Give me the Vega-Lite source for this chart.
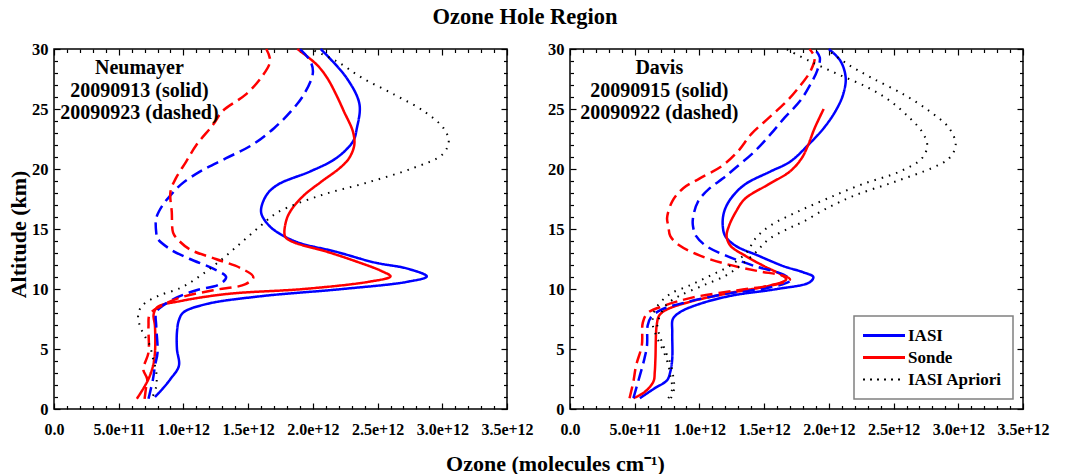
{
  "$schema": "https://vega.github.io/schema/vega-lite/v6.json",
  "autosize": {"type": "pad"},
  "padding": {"left": 6, "top": 5, "right": 5, "bottom": 5},
  "background": "white",
  "title": {"text": "Ozone Hole Region", "font": "Liberation Serif", "fontSize": 22.5, "fontWeight": "bold", "color": "#000000", "anchor": "middle", "offset": 12, "dx": -3},
  "config": {
    "view": {"stroke": "#000000", "strokeWidth": 1.5},
    "axis": {"domain": false, "grid": false, "labelFont": "Liberation Serif", "labelFontWeight": "bold", "labelColor": "#000000", "tickColor": "#000000", "tickWidth": 1.2, "labelFlush": false, "labelOverlap": false, "labelBound": false, "titleFont": "Liberation Serif", "titleFontWeight": "bold", "titleFontSize": 22, "titleColor": "#000000"}
  },
  "bounds": "flush",
  "spacing": 63,
  "resolve": {"legend": {"color": "independent"}},
  "data": {"values": [
    {"site":"Neumayer","type":"IASI","date":"20090913","alt":30.0,"ozone":2.06e12},
    {"site":"Neumayer","type":"IASI","date":"20090913","alt":27.6,"ozone":2.26e12},
    {"site":"Neumayer","type":"IASI","date":"20090913","alt":25.4,"ozone":2.36e12},
    {"site":"Neumayer","type":"IASI","date":"20090913","alt":23.4,"ozone":2.34e12},
    {"site":"Neumayer","type":"IASI","date":"20090913","alt":22.3,"ozone":2.31e12},
    {"site":"Neumayer","type":"IASI","date":"20090913","alt":20.9,"ozone":2.18e12},
    {"site":"Neumayer","type":"IASI","date":"20090913","alt":19.8,"ozone":1.98e12},
    {"site":"Neumayer","type":"IASI","date":"20090913","alt":18.7,"ozone":1.73e12},
    {"site":"Neumayer","type":"IASI","date":"20090913","alt":17.8,"ozone":1.64e12},
    {"site":"Neumayer","type":"IASI","date":"20090913","alt":16.4,"ozone":1.60e12},
    {"site":"Neumayer","type":"IASI","date":"20090913","alt":15.3,"ozone":1.66e12},
    {"site":"Neumayer","type":"IASI","date":"20090913","alt":14.7,"ozone":1.73e12},
    {"site":"Neumayer","type":"IASI","date":"20090913","alt":13.9,"ozone":1.88e12},
    {"site":"Neumayer","type":"IASI","date":"20090913","alt":13.1,"ozone":2.18e12},
    {"site":"Neumayer","type":"IASI","date":"20090913","alt":12.2,"ozone":2.48e12},
    {"site":"Neumayer","type":"IASI","date":"20090913","alt":11.7,"ozone":2.73e12},
    {"site":"Neumayer","type":"IASI","date":"20090913","alt":11.05,"ozone":2.88e12},
    {"site":"Neumayer","type":"IASI","date":"20090913","alt":10.6,"ozone":2.73e12},
    {"site":"Neumayer","type":"IASI","date":"20090913","alt":10.0,"ozone":2.23e12},
    {"site":"Neumayer","type":"IASI","date":"20090913","alt":9.4,"ozone":1.60e12},
    {"site":"Neumayer","type":"IASI","date":"20090913","alt":8.75,"ozone":1.18e12},
    {"site":"Neumayer","type":"IASI","date":"20090913","alt":8.05,"ozone":1.00e12},
    {"site":"Neumayer","type":"IASI","date":"20090913","alt":7.4,"ozone":0.965e12},
    {"site":"Neumayer","type":"IASI","date":"20090913","alt":6.4,"ozone":0.95e12},
    {"site":"Neumayer","type":"IASI","date":"20090913","alt":5.0,"ozone":0.95e12},
    {"site":"Neumayer","type":"IASI","date":"20090913","alt":3.6,"ozone":0.965e12},
    {"site":"Neumayer","type":"IASI","date":"20090913","alt":2.5,"ozone":0.90e12},
    {"site":"Neumayer","type":"IASI","date":"20090913","alt":1.7,"ozone":0.84e12},
    {"site":"Neumayer","type":"IASI","date":"20090913","alt":1.0,"ozone":0.78e12},

    {"site":"Neumayer","type":"Sonde","date":"20090913","alt":30.0,"ozone":1.88e12},
    {"site":"Neumayer","type":"Sonde","date":"20090913","alt":28.7,"ozone":2.03e12},
    {"site":"Neumayer","type":"Sonde","date":"20090913","alt":27.6,"ozone":2.11e12},
    {"site":"Neumayer","type":"Sonde","date":"20090913","alt":26.2,"ozone":2.18e12},
    {"site":"Neumayer","type":"Sonde","date":"20090913","alt":24.8,"ozone":2.24e12},
    {"site":"Neumayer","type":"Sonde","date":"20090913","alt":23.1,"ozone":2.31e12},
    {"site":"Neumayer","type":"Sonde","date":"20090913","alt":22.0,"ozone":2.32e12},
    {"site":"Neumayer","type":"Sonde","date":"20090913","alt":20.9,"ozone":2.28e12},
    {"site":"Neumayer","type":"Sonde","date":"20090913","alt":20.1,"ozone":2.21e12},
    {"site":"Neumayer","type":"Sonde","date":"20090913","alt":18.9,"ozone":2.06e12},
    {"site":"Neumayer","type":"Sonde","date":"20090913","alt":17.8,"ozone":1.93e12},
    {"site":"Neumayer","type":"Sonde","date":"20090913","alt":16.7,"ozone":1.84e12},
    {"site":"Neumayer","type":"Sonde","date":"20090913","alt":15.9,"ozone":1.80e12},
    {"site":"Neumayer","type":"Sonde","date":"20090913","alt":14.7,"ozone":1.78e12},
    {"site":"Neumayer","type":"Sonde","date":"20090913","alt":14.3,"ozone":1.79e12},
    {"site":"Neumayer","type":"Sonde","date":"20090913","alt":13.9,"ozone":1.85e12},
    {"site":"Neumayer","type":"Sonde","date":"20090913","alt":13.1,"ozone":2.11e12},
    {"site":"Neumayer","type":"Sonde","date":"20090913","alt":12.2,"ozone":2.36e12},
    {"site":"Neumayer","type":"Sonde","date":"20090913","alt":11.5,"ozone":2.53e12},
    {"site":"Neumayer","type":"Sonde","date":"20090913","alt":11.05,"ozone":2.60e12},
    {"site":"Neumayer","type":"Sonde","date":"20090913","alt":10.6,"ozone":2.43e12},
    {"site":"Neumayer","type":"Sonde","date":"20090913","alt":10.0,"ozone":1.93e12},
    {"site":"Neumayer","type":"Sonde","date":"20090913","alt":9.6,"ozone":1.35e12},
    {"site":"Neumayer","type":"Sonde","date":"20090913","alt":9.0,"ozone":0.98e12},
    {"site":"Neumayer","type":"Sonde","date":"20090913","alt":8.5,"ozone":0.80e12},
    {"site":"Neumayer","type":"Sonde","date":"20090913","alt":7.9,"ozone":0.77e12},
    {"site":"Neumayer","type":"Sonde","date":"20090913","alt":6.9,"ozone":0.78e12},
    {"site":"Neumayer","type":"Sonde","date":"20090913","alt":4.7,"ozone":0.78e12},
    {"site":"Neumayer","type":"Sonde","date":"20090913","alt":3.6,"ozone":0.765e12},
    {"site":"Neumayer","type":"Sonde","date":"20090913","alt":2.5,"ozone":0.73e12},
    {"site":"Neumayer","type":"Sonde","date":"20090913","alt":1.7,"ozone":0.69e12},
    {"site":"Neumayer","type":"Sonde","date":"20090913","alt":0.85,"ozone":0.64e12},

    {"site":"Neumayer","type":"IASI","date":"20090923","alt":30.0,"ozone":1.90e12},
    {"site":"Neumayer","type":"IASI","date":"20090923","alt":29.0,"ozone":1.98e12},
    {"site":"Neumayer","type":"IASI","date":"20090923","alt":28.0,"ozone":2.00e12},
    {"site":"Neumayer","type":"IASI","date":"20090923","alt":26.2,"ozone":1.93e12},
    {"site":"Neumayer","type":"IASI","date":"20090923","alt":24.8,"ozone":1.83e12},
    {"site":"Neumayer","type":"IASI","date":"20090923","alt":23.4,"ozone":1.70e12},
    {"site":"Neumayer","type":"IASI","date":"20090923","alt":22.0,"ozone":1.53e12},
    {"site":"Neumayer","type":"IASI","date":"20090923","alt":20.9,"ozone":1.33e12},
    {"site":"Neumayer","type":"IASI","date":"20090923","alt":19.8,"ozone":1.13e12},
    {"site":"Neumayer","type":"IASI","date":"20090923","alt":18.7,"ozone":0.98e12},
    {"site":"Neumayer","type":"IASI","date":"20090923","alt":17.8,"ozone":0.90e12},
    {"site":"Neumayer","type":"IASI","date":"20090923","alt":17.0,"ozone":0.84e12},
    {"site":"Neumayer","type":"IASI","date":"20090923","alt":15.9,"ozone":0.79e12},
    {"site":"Neumayer","type":"IASI","date":"20090923","alt":14.7,"ozone":0.79e12},
    {"site":"Neumayer","type":"IASI","date":"20090923","alt":14.2,"ozone":0.80e12},
    {"site":"Neumayer","type":"IASI","date":"20090923","alt":13.3,"ozone":0.90e12},
    {"site":"Neumayer","type":"IASI","date":"20090923","alt":12.5,"ozone":1.05e12},
    {"site":"Neumayer","type":"IASI","date":"20090923","alt":11.7,"ozone":1.23e12},
    {"site":"Neumayer","type":"IASI","date":"20090923","alt":11.0,"ozone":1.33e12},
    {"site":"Neumayer","type":"IASI","date":"20090923","alt":10.4,"ozone":1.28e12},
    {"site":"Neumayer","type":"IASI","date":"20090923","alt":9.9,"ozone":1.10e12},
    {"site":"Neumayer","type":"IASI","date":"20090923","alt":9.3,"ozone":0.95e12},
    {"site":"Neumayer","type":"IASI","date":"20090923","alt":8.6,"ozone":0.84e12},
    {"site":"Neumayer","type":"IASI","date":"20090923","alt":8.05,"ozone":0.79e12},
    {"site":"Neumayer","type":"IASI","date":"20090923","alt":6.9,"ozone":0.79e12},
    {"site":"Neumayer","type":"IASI","date":"20090923","alt":4.7,"ozone":0.80e12},
    {"site":"Neumayer","type":"IASI","date":"20090923","alt":3.6,"ozone":0.78e12},
    {"site":"Neumayer","type":"IASI","date":"20090923","alt":2.5,"ozone":0.765e12},
    {"site":"Neumayer","type":"IASI","date":"20090923","alt":0.85,"ozone":0.73e12},

    {"site":"Neumayer","type":"Sonde","date":"20090923","alt":30.0,"ozone":1.64e12},
    {"site":"Neumayer","type":"Sonde","date":"20090923","alt":29.0,"ozone":1.67e12},
    {"site":"Neumayer","type":"Sonde","date":"20090923","alt":27.6,"ozone":1.60e12},
    {"site":"Neumayer","type":"Sonde","date":"20090923","alt":26.2,"ozone":1.48e12},
    {"site":"Neumayer","type":"Sonde","date":"20090923","alt":24.8,"ozone":1.30e12},
    {"site":"Neumayer","type":"Sonde","date":"20090923","alt":23.7,"ozone":1.23e12},
    {"site":"Neumayer","type":"Sonde","date":"20090923","alt":22.0,"ozone":1.10e12},
    {"site":"Neumayer","type":"Sonde","date":"20090923","alt":20.6,"ozone":1.02e12},
    {"site":"Neumayer","type":"Sonde","date":"20090923","alt":19.2,"ozone":0.94e12},
    {"site":"Neumayer","type":"Sonde","date":"20090923","alt":18.1,"ozone":0.90e12},
    {"site":"Neumayer","type":"Sonde","date":"20090923","alt":16.4,"ozone":0.91e12},
    {"site":"Neumayer","type":"Sonde","date":"20090923","alt":14.7,"ozone":0.92e12},
    {"site":"Neumayer","type":"Sonde","date":"20090923","alt":14.2,"ozone":0.95e12},
    {"site":"Neumayer","type":"Sonde","date":"20090923","alt":13.3,"ozone":1.05e12},
    {"site":"Neumayer","type":"Sonde","date":"20090923","alt":12.5,"ozone":1.25e12},
    {"site":"Neumayer","type":"Sonde","date":"20090923","alt":11.7,"ozone":1.45e12},
    {"site":"Neumayer","type":"Sonde","date":"20090923","alt":11.0,"ozone":1.54e12},
    {"site":"Neumayer","type":"Sonde","date":"20090923","alt":10.4,"ozone":1.48e12},
    {"site":"Neumayer","type":"Sonde","date":"20090923","alt":9.9,"ozone":1.23e12},
    {"site":"Neumayer","type":"Sonde","date":"20090923","alt":9.3,"ozone":0.98e12},
    {"site":"Neumayer","type":"Sonde","date":"20090923","alt":8.6,"ozone":0.83e12},
    {"site":"Neumayer","type":"Sonde","date":"20090923","alt":7.9,"ozone":0.74e12},
    {"site":"Neumayer","type":"Sonde","date":"20090923","alt":6.9,"ozone":0.73e12},
    {"site":"Neumayer","type":"Sonde","date":"20090923","alt":4.7,"ozone":0.73e12},
    {"site":"Neumayer","type":"Sonde","date":"20090923","alt":3.3,"ozone":0.69e12},
    {"site":"Neumayer","type":"Sonde","date":"20090923","alt":2.5,"ozone":0.72e12},
    {"site":"Neumayer","type":"Sonde","date":"20090923","alt":1.7,"ozone":0.71e12},
    {"site":"Neumayer","type":"Sonde","date":"20090923","alt":0.85,"ozone":0.70e12},

    {"site":"Neumayer","type":"IASI Apriori","date":"20090913","alt":30.0,"ozone":1.98e12},
    {"site":"Neumayer","type":"IASI Apriori","date":"20090913","alt":29.0,"ozone":2.18e12},
    {"site":"Neumayer","type":"IASI Apriori","date":"20090913","alt":27.6,"ozone":2.38e12},
    {"site":"Neumayer","type":"IASI Apriori","date":"20090913","alt":26.2,"ozone":2.63e12},
    {"site":"Neumayer","type":"IASI Apriori","date":"20090913","alt":24.8,"ozone":2.86e12},
    {"site":"Neumayer","type":"IASI Apriori","date":"20090913","alt":23.4,"ozone":3.01e12},
    {"site":"Neumayer","type":"IASI Apriori","date":"20090913","alt":22.3,"ozone":3.05e12},
    {"site":"Neumayer","type":"IASI Apriori","date":"20090913","alt":21.2,"ozone":3.00e12},
    {"site":"Neumayer","type":"IASI Apriori","date":"20090913","alt":20.1,"ozone":2.78e12},
    {"site":"Neumayer","type":"IASI Apriori","date":"20090913","alt":18.9,"ozone":2.43e12},
    {"site":"Neumayer","type":"IASI Apriori","date":"20090913","alt":17.8,"ozone":2.06e12},
    {"site":"Neumayer","type":"IASI Apriori","date":"20090913","alt":16.4,"ozone":1.73e12},
    {"site":"Neumayer","type":"IASI Apriori","date":"20090913","alt":15.3,"ozone":1.60e12},
    {"site":"Neumayer","type":"IASI Apriori","date":"20090913","alt":13.9,"ozone":1.45e12},
    {"site":"Neumayer","type":"IASI Apriori","date":"20090913","alt":12.5,"ozone":1.30e12},
    {"site":"Neumayer","type":"IASI Apriori","date":"20090913","alt":11.1,"ozone":1.13e12},
    {"site":"Neumayer","type":"IASI Apriori","date":"20090913","alt":10.1,"ozone":0.98e12},
    {"site":"Neumayer","type":"IASI Apriori","date":"20090913","alt":9.4,"ozone":0.80e12},
    {"site":"Neumayer","type":"IASI Apriori","date":"20090913","alt":8.6,"ozone":0.68e12},
    {"site":"Neumayer","type":"IASI Apriori","date":"20090913","alt":7.8,"ozone":0.65e12},
    {"site":"Neumayer","type":"IASI Apriori","date":"20090913","alt":6.9,"ozone":0.665e12},
    {"site":"Neumayer","type":"IASI Apriori","date":"20090913","alt":6.1,"ozone":0.70e12},
    {"site":"Neumayer","type":"IASI Apriori","date":"20090913","alt":5.3,"ozone":0.74e12},
    {"site":"Neumayer","type":"IASI Apriori","date":"20090913","alt":4.2,"ozone":0.765e12},
    {"site":"Neumayer","type":"IASI Apriori","date":"20090913","alt":3.1,"ozone":0.79e12},
    {"site":"Neumayer","type":"IASI Apriori","date":"20090913","alt":1.9,"ozone":0.79e12},
    {"site":"Neumayer","type":"IASI Apriori","date":"20090913","alt":1.1,"ozone":0.765e12},

    {"site":"Davis","type":"IASI","date":"20090915","alt":30.0,"ozone":2.00e12},
    {"site":"Davis","type":"IASI","date":"20090915","alt":29.0,"ozone":2.09e12},
    {"site":"Davis","type":"IASI","date":"20090915","alt":27.6,"ozone":2.13e12},
    {"site":"Davis","type":"IASI","date":"20090915","alt":26.2,"ozone":2.11e12},
    {"site":"Davis","type":"IASI","date":"20090915","alt":24.8,"ozone":2.05e12},
    {"site":"Davis","type":"IASI","date":"20090915","alt":23.4,"ozone":1.96e12},
    {"site":"Davis","type":"IASI","date":"20090915","alt":22.0,"ozone":1.84e12},
    {"site":"Davis","type":"IASI","date":"20090915","alt":20.6,"ozone":1.70e12},
    {"site":"Davis","type":"IASI","date":"20090915","alt":19.8,"ozone":1.55e12},
    {"site":"Davis","type":"IASI","date":"20090915","alt":18.7,"ozone":1.35e12},
    {"site":"Davis","type":"IASI","date":"20090915","alt":17.5,"ozone":1.24e12},
    {"site":"Davis","type":"IASI","date":"20090915","alt":16.4,"ozone":1.19e12},
    {"site":"Davis","type":"IASI","date":"20090915","alt":15.3,"ozone":1.18e12},
    {"site":"Davis","type":"IASI","date":"20090915","alt":14.4,"ozone":1.20e12},
    {"site":"Davis","type":"IASI","date":"20090915","alt":13.6,"ozone":1.28e12},
    {"site":"Davis","type":"IASI","date":"20090915","alt":12.8,"ozone":1.45e12},
    {"site":"Davis","type":"IASI","date":"20090915","alt":11.9,"ozone":1.65e12},
    {"site":"Davis","type":"IASI","date":"20090915","alt":11.4,"ozone":1.80e12},
    {"site":"Davis","type":"IASI","date":"20090915","alt":11.0,"ozone":1.88e12},
    {"site":"Davis","type":"IASI","date":"20090915","alt":10.55,"ozone":1.85e12},
    {"site":"Davis","type":"IASI","date":"20090915","alt":10.0,"ozone":1.60e12},
    {"site":"Davis","type":"IASI","date":"20090915","alt":9.45,"ozone":1.25e12},
    {"site":"Davis","type":"IASI","date":"20090915","alt":8.75,"ozone":1.00e12},
    {"site":"Davis","type":"IASI","date":"20090915","alt":8.07,"ozone":0.85e12},
    {"site":"Davis","type":"IASI","date":"20090915","alt":7.5,"ozone":0.795e12},
    {"site":"Davis","type":"IASI","date":"20090915","alt":6.4,"ozone":0.79e12},
    {"site":"Davis","type":"IASI","date":"20090915","alt":4.2,"ozone":0.79e12},
    {"site":"Davis","type":"IASI","date":"20090915","alt":3.1,"ozone":0.775e12},
    {"site":"Davis","type":"IASI","date":"20090915","alt":2.4,"ozone":0.75e12},
    {"site":"Davis","type":"IASI","date":"20090915","alt":1.7,"ozone":0.65e12},
    {"site":"Davis","type":"IASI","date":"20090915","alt":0.9,"ozone":0.54e12},

    {"site":"Davis","type":"Sonde","date":"20090915","alt":25.0,"ozone":1.96e12},
    {"site":"Davis","type":"Sonde","date":"20090915","alt":23.4,"ozone":1.89e12},
    {"site":"Davis","type":"Sonde","date":"20090915","alt":22.0,"ozone":1.84e12},
    {"site":"Davis","type":"Sonde","date":"20090915","alt":20.9,"ozone":1.79e12},
    {"site":"Davis","type":"Sonde","date":"20090915","alt":19.8,"ozone":1.70e12},
    {"site":"Davis","type":"Sonde","date":"20090915","alt":18.7,"ozone":1.53e12},
    {"site":"Davis","type":"Sonde","date":"20090915","alt":17.5,"ozone":1.35e12},
    {"site":"Davis","type":"Sonde","date":"20090915","alt":16.4,"ozone":1.28e12},
    {"site":"Davis","type":"Sonde","date":"20090915","alt":15.3,"ozone":1.23e12},
    {"site":"Davis","type":"Sonde","date":"20090915","alt":14.4,"ozone":1.21e12},
    {"site":"Davis","type":"Sonde","date":"20090915","alt":13.6,"ozone":1.24e12},
    {"site":"Davis","type":"Sonde","date":"20090915","alt":12.8,"ozone":1.35e12},
    {"site":"Davis","type":"Sonde","date":"20090915","alt":11.9,"ozone":1.50e12},
    {"site":"Davis","type":"Sonde","date":"20090915","alt":11.2,"ozone":1.63e12},
    {"site":"Davis","type":"Sonde","date":"20090915","alt":10.8,"ozone":1.67e12},
    {"site":"Davis","type":"Sonde","date":"20090915","alt":10.3,"ozone":1.55e12},
    {"site":"Davis","type":"Sonde","date":"20090915","alt":9.7,"ozone":1.25e12},
    {"site":"Davis","type":"Sonde","date":"20090915","alt":9.0,"ozone":0.95e12},
    {"site":"Davis","type":"Sonde","date":"20090915","alt":8.3,"ozone":0.75e12},
    {"site":"Davis","type":"Sonde","date":"20090915","alt":7.8,"ozone":0.69e12},
    {"site":"Davis","type":"Sonde","date":"20090915","alt":7.0,"ozone":0.67e12},
    {"site":"Davis","type":"Sonde","date":"20090915","alt":4.2,"ozone":0.66e12},
    {"site":"Davis","type":"Sonde","date":"20090915","alt":3.1,"ozone":0.655e12},
    {"site":"Davis","type":"Sonde","date":"20090915","alt":2.3,"ozone":0.645e12},
    {"site":"Davis","type":"Sonde","date":"20090915","alt":1.4,"ozone":0.575e12},
    {"site":"Davis","type":"Sonde","date":"20090915","alt":0.9,"ozone":0.49e12},

    {"site":"Davis","type":"IASI","date":"20090922","alt":30.0,"ozone":1.89e12},
    {"site":"Davis","type":"IASI","date":"20090922","alt":29.3,"ozone":1.93e12},
    {"site":"Davis","type":"IASI","date":"20090922","alt":28.2,"ozone":1.91e12},
    {"site":"Davis","type":"IASI","date":"20090922","alt":27.1,"ozone":1.86e12},
    {"site":"Davis","type":"IASI","date":"20090922","alt":25.7,"ozone":1.78e12},
    {"site":"Davis","type":"IASI","date":"20090922","alt":24.3,"ozone":1.66e12},
    {"site":"Davis","type":"IASI","date":"20090922","alt":22.9,"ozone":1.55e12},
    {"site":"Davis","type":"IASI","date":"20090922","alt":21.5,"ozone":1.43e12},
    {"site":"Davis","type":"IASI","date":"20090922","alt":20.1,"ozone":1.28e12},
    {"site":"Davis","type":"IASI","date":"20090922","alt":19.2,"ozone":1.18e12},
    {"site":"Davis","type":"IASI","date":"20090922","alt":18.4,"ozone":1.08e12},
    {"site":"Davis","type":"IASI","date":"20090922","alt":17.3,"ozone":0.99e12},
    {"site":"Davis","type":"IASI","date":"20090922","alt":15.9,"ozone":0.95e12},
    {"site":"Davis","type":"IASI","date":"20090922","alt":15.25,"ozone":0.95e12},
    {"site":"Davis","type":"IASI","date":"20090922","alt":14.4,"ozone":0.975e12},
    {"site":"Davis","type":"IASI","date":"20090922","alt":13.6,"ozone":1.05e12},
    {"site":"Davis","type":"IASI","date":"20090922","alt":12.8,"ozone":1.20e12},
    {"site":"Davis","type":"IASI","date":"20090922","alt":11.9,"ozone":1.43e12},
    {"site":"Davis","type":"IASI","date":"20090922","alt":11.2,"ozone":1.65e12},
    {"site":"Davis","type":"IASI","date":"20090922","alt":10.7,"ozone":1.70e12},
    {"site":"Davis","type":"IASI","date":"20090922","alt":10.1,"ozone":1.53e12},
    {"site":"Davis","type":"IASI","date":"20090922","alt":9.6,"ozone":1.20e12},
    {"site":"Davis","type":"IASI","date":"20090922","alt":8.9,"ozone":0.90e12},
    {"site":"Davis","type":"IASI","date":"20090922","alt":8.3,"ozone":0.71e12},
    {"site":"Davis","type":"IASI","date":"20090922","alt":7.65,"ozone":0.625e12},
    {"site":"Davis","type":"IASI","date":"20090922","alt":6.95,"ozone":0.60e12},
    {"site":"Davis","type":"IASI","date":"20090922","alt":5.3,"ozone":0.595e12},
    {"site":"Davis","type":"IASI","date":"20090922","alt":4.2,"ozone":0.575e12},
    {"site":"Davis","type":"IASI","date":"20090922","alt":2.8,"ozone":0.54e12},
    {"site":"Davis","type":"IASI","date":"20090922","alt":0.9,"ozone":0.49e12},

    {"site":"Davis","type":"Sonde","date":"20090922","alt":30.0,"ozone":1.85e12},
    {"site":"Davis","type":"Sonde","date":"20090922","alt":29.3,"ozone":1.89e12},
    {"site":"Davis","type":"Sonde","date":"20090922","alt":28.2,"ozone":1.86e12},
    {"site":"Davis","type":"Sonde","date":"20090922","alt":27.1,"ozone":1.79e12},
    {"site":"Davis","type":"Sonde","date":"20090922","alt":25.7,"ozone":1.68e12},
    {"site":"Davis","type":"Sonde","date":"20090922","alt":24.3,"ozone":1.54e12},
    {"site":"Davis","type":"Sonde","date":"20090922","alt":22.9,"ozone":1.40e12},
    {"site":"Davis","type":"Sonde","date":"20090922","alt":21.5,"ozone":1.30e12},
    {"site":"Davis","type":"Sonde","date":"20090922","alt":20.3,"ozone":1.18e12},
    {"site":"Davis","type":"Sonde","date":"20090922","alt":19.2,"ozone":1.00e12},
    {"site":"Davis","type":"Sonde","date":"20090922","alt":18.4,"ozone":0.875e12},
    {"site":"Davis","type":"Sonde","date":"20090922","alt":17.3,"ozone":0.79e12},
    {"site":"Davis","type":"Sonde","date":"20090922","alt":15.9,"ozone":0.75e12},
    {"site":"Davis","type":"Sonde","date":"20090922","alt":15.25,"ozone":0.76e12},
    {"site":"Davis","type":"Sonde","date":"20090922","alt":14.4,"ozone":0.775e12},
    {"site":"Davis","type":"Sonde","date":"20090922","alt":13.6,"ozone":0.85e12},
    {"site":"Davis","type":"Sonde","date":"20090922","alt":12.8,"ozone":1.00e12},
    {"site":"Davis","type":"Sonde","date":"20090922","alt":12.1,"ozone":1.20e12},
    {"site":"Davis","type":"Sonde","date":"20090922","alt":11.5,"ozone":1.45e12},
    {"site":"Davis","type":"Sonde","date":"20090922","alt":11.1,"ozone":1.65e12},
    {"site":"Davis","type":"Sonde","date":"20090922","alt":10.8,"ozone":1.70e12},
    {"site":"Davis","type":"Sonde","date":"20090922","alt":10.4,"ozone":1.60e12},
    {"site":"Davis","type":"Sonde","date":"20090922","alt":9.9,"ozone":1.30e12},
    {"site":"Davis","type":"Sonde","date":"20090922","alt":9.3,"ozone":0.95e12},
    {"site":"Davis","type":"Sonde","date":"20090922","alt":8.6,"ozone":0.725e12},
    {"site":"Davis","type":"Sonde","date":"20090922","alt":8.0,"ozone":0.60e12},
    {"site":"Davis","type":"Sonde","date":"20090922","alt":7.2,"ozone":0.5625e12},
    {"site":"Davis","type":"Sonde","date":"20090922","alt":5.3,"ozone":0.555e12},
    {"site":"Davis","type":"Sonde","date":"20090922","alt":3.6,"ozone":0.51e12},
    {"site":"Davis","type":"Sonde","date":"20090922","alt":2.3,"ozone":0.49e12},
    {"site":"Davis","type":"Sonde","date":"20090922","alt":0.9,"ozone":0.46e12},

    {"site":"Davis","type":"IASI Apriori","date":"20090915","alt":30.0,"ozone":1.98e12},
    {"site":"Davis","type":"IASI Apriori","date":"20090915","alt":28.7,"ozone":2.15e12},
    {"site":"Davis","type":"IASI Apriori","date":"20090915","alt":27.6,"ozone":2.33e12},
    {"site":"Davis","type":"IASI Apriori","date":"20090915","alt":26.2,"ozone":2.58e12},
    {"site":"Davis","type":"IASI Apriori","date":"20090915","alt":24.8,"ozone":2.78e12},
    {"site":"Davis","type":"IASI Apriori","date":"20090915","alt":23.4,"ozone":2.93e12},
    {"site":"Davis","type":"IASI Apriori","date":"20090915","alt":22.0,"ozone":2.98e12},
    {"site":"Davis","type":"IASI Apriori","date":"20090915","alt":20.9,"ozone":2.93e12},
    {"site":"Davis","type":"IASI Apriori","date":"20090915","alt":20.1,"ozone":2.80e12},
    {"site":"Davis","type":"IASI Apriori","date":"20090915","alt":18.9,"ozone":2.50e12},
    {"site":"Davis","type":"IASI Apriori","date":"20090915","alt":17.8,"ozone":2.20e12},
    {"site":"Davis","type":"IASI Apriori","date":"20090915","alt":16.7,"ozone":1.98e12},
    {"site":"Davis","type":"IASI Apriori","date":"20090915","alt":15.6,"ozone":1.80e12},
    {"site":"Davis","type":"IASI Apriori","date":"20090915","alt":15.0,"ozone":1.68e12},
    {"site":"Davis","type":"IASI Apriori","date":"20090915","alt":14.1,"ozone":1.53e12},
    {"site":"Davis","type":"IASI Apriori","date":"20090915","alt":13.0,"ozone":1.43e12},
    {"site":"Davis","type":"IASI Apriori","date":"20090915","alt":11.9,"ozone":1.31e12},
    {"site":"Davis","type":"IASI Apriori","date":"20090915","alt":11.1,"ozone":1.20e12},
    {"site":"Davis","type":"IASI Apriori","date":"20090915","alt":10.3,"ozone":1.03e12},
    {"site":"Davis","type":"IASI Apriori","date":"20090915","alt":9.45,"ozone":0.85e12},
    {"site":"Davis","type":"IASI Apriori","date":"20090915","alt":8.75,"ozone":0.75e12},
    {"site":"Davis","type":"IASI Apriori","date":"20090915","alt":8.1,"ozone":0.71e12},
    {"site":"Davis","type":"IASI Apriori","date":"20090915","alt":7.0,"ozone":0.675e12},
    {"site":"Davis","type":"IASI Apriori","date":"20090915","alt":5.9,"ozone":0.70e12},
    {"site":"Davis","type":"IASI Apriori","date":"20090915","alt":4.75,"ozone":0.74e12},
    {"site":"Davis","type":"IASI Apriori","date":"20090915","alt":3.65,"ozone":0.78e12},
    {"site":"Davis","type":"IASI Apriori","date":"20090915","alt":2.5,"ozone":0.80e12},
    {"site":"Davis","type":"IASI Apriori","date":"20090915","alt":1.7,"ozone":0.805e12},
    {"site":"Davis","type":"IASI Apriori","date":"20090915","alt":0.9,"ozone":0.78e12},

    {"site":"Davis","type":"IASI Apriori","date":"20090922","alt":30.0,"ozone":1.67e12},
    {"site":"Davis","type":"IASI Apriori","date":"20090922","alt":29.0,"ozone":1.85e12},
    {"site":"Davis","type":"IASI Apriori","date":"20090922","alt":27.9,"ozone":2.07e12},
    {"site":"Davis","type":"IASI Apriori","date":"20090922","alt":26.8,"ozone":2.30e12},
    {"site":"Davis","type":"IASI Apriori","date":"20090922","alt":25.7,"ozone":2.47e12},
    {"site":"Davis","type":"IASI Apriori","date":"20090922","alt":24.3,"ozone":2.62e12},
    {"site":"Davis","type":"IASI Apriori","date":"20090922","alt":23.1,"ozone":2.72e12},
    {"site":"Davis","type":"IASI Apriori","date":"20090922","alt":22.0,"ozone":2.76e12},
    {"site":"Davis","type":"IASI Apriori","date":"20090922","alt":20.9,"ozone":2.72e12},
    {"site":"Davis","type":"IASI Apriori","date":"20090922","alt":19.8,"ozone":2.55e12},
    {"site":"Davis","type":"IASI Apriori","date":"20090922","alt":18.7,"ozone":2.25e12},
    {"site":"Davis","type":"IASI Apriori","date":"20090922","alt":17.5,"ozone":1.98e12},
    {"site":"Davis","type":"IASI Apriori","date":"20090922","alt":16.4,"ozone":1.75e12},
    {"site":"Davis","type":"IASI Apriori","date":"20090922","alt":15.3,"ozone":1.55e12},
    {"site":"Davis","type":"IASI Apriori","date":"20090922","alt":14.3,"ozone":1.44e12},
    {"site":"Davis","type":"IASI Apriori","date":"20090922","alt":13.0,"ozone":1.36e12},
    {"site":"Davis","type":"IASI Apriori","date":"20090922","alt":11.9,"ozone":1.23e12},
    {"site":"Davis","type":"IASI Apriori","date":"20090922","alt":11.1,"ozone":1.08e12},
    {"site":"Davis","type":"IASI Apriori","date":"20090922","alt":10.3,"ozone":0.925e12},
    {"site":"Davis","type":"IASI Apriori","date":"20090922","alt":9.6,"ozone":0.775e12},
    {"site":"Davis","type":"IASI Apriori","date":"20090922","alt":8.9,"ozone":0.70e12},
    {"site":"Davis","type":"IASI Apriori","date":"20090922","alt":8.1,"ozone":0.65e12},
    {"site":"Davis","type":"IASI Apriori","date":"20090922","alt":7.0,"ozone":0.64e12},
    {"site":"Davis","type":"IASI Apriori","date":"20090922","alt":5.9,"ozone":0.675e12},
    {"site":"Davis","type":"IASI Apriori","date":"20090922","alt":4.75,"ozone":0.725e12},
    {"site":"Davis","type":"IASI Apriori","date":"20090922","alt":3.65,"ozone":0.76e12},
    {"site":"Davis","type":"IASI Apriori","date":"20090922","alt":2.5,"ozone":0.78e12},
    {"site":"Davis","type":"IASI Apriori","date":"20090922","alt":1.7,"ozone":0.79e12},
    {"site":"Davis","type":"IASI Apriori","date":"20090922","alt":0.9,"ozone":0.76e12}
  ]},
  "hconcat": [
    {
      "width": 453, "height": 360,
      "resolve": {"axis": {"x": "independent", "y": "independent"}},
      "layer": [
        {
          "transform": [{"filter": "datum.site === 'Neumayer'"}],
          "encoding": {
            "x": {"field": "ozone", "type": "quantitative", "scale": {"domain": [0, 3.5e12], "nice": false, "zero": false},
              "axis": {"orient": "bottom", "values": [0,1e11,2e11,3e11,4e11,5e11,6e11,7e11,8e11,9e11,1e12,1.1e12,1.2e12,1.3e12,1.4e12,1.5e12,1.6e12,1.7e12,1.8e12,1.9e12,2e12,2.1e12,2.2e12,2.3e12,2.4e12,2.5e12,2.6e12,2.7e12,2.8e12,2.9e12,3e12,3.1e12,3.2e12,3.3e12,3.4e12,3.5e12],
                "tickSize": {"condition": {"test": "datum.value % 500000000000 === 0", "value": -6}, "value": -3.5},
                "labelExpr": "datum.value === 0 ? '0.0' : (datum.value % 500000000000 === 0 ? format(datum.value, '.1e') : '')",
                "labelPadding": 18, "labelFontSize": 16,
                "title": "Ozone (molecules cm⁻¹)", "titleX": 501, "titleY": 61, "titleBaseline": "alphabetic", "titleAlign": "center"}},
            "y": {"field": "alt", "type": "quantitative", "scale": {"domain": [0, 30], "nice": false},
              "axis": {"orient": "left", "values": [0,1,2,3,4,5,6,7,8,9,10,11,12,13,14,15,16,17,18,19,20,21,22,23,24,25,26,27,28,29,30],
                "tickSize": {"condition": {"test": "datum.value % 5 === 0", "value": -6}, "value": -3.5},
                "labelExpr": "datum.value % 5 === 0 ? datum.label : ''",
                "labelPadding": 12, "labelFontSize": 16.5,
                "title": "Altitude (km)", "titleX": -36, "titleY": 185, "titleBaseline": "middle", "titleAlign": "center"}}
          },
          "layer": [
            {
              "transform": [{"filter": "datum.type !== 'IASI Apriori'"}],
              "mark": {"type": "line", "strokeWidth": 2.5, "interpolate": "catmull-rom"},
              "encoding": {
                "color": {"field": "type", "type": "nominal", "scale": {"domain": ["IASI", "Sonde", "IASI Apriori"], "range": ["#0000ff", "#ff0000", "#000000"]}, "legend": null},
                "strokeDash": {"field": "date", "type": "nominal", "scale": {"domain": ["20090913", "20090923", "20090915", "20090922"], "range": [[1, 0], [12, 6], [1, 0], [12, 6]]}, "legend": null},
                "order": {"field": "alt", "type": "quantitative"}
              }
            },
            {
              "transform": [{"filter": "datum.type === 'IASI Apriori'"}],
              "mark": {"type": "line", "strokeWidth": 2, "strokeDash": [1.5, 6], "interpolate": "catmull-rom"},
              "encoding": {
                "color": {"field": "type", "type": "nominal", "scale": {"domain": ["IASI", "Sonde", "IASI Apriori"], "range": ["#0000ff", "#ff0000", "#000000"]}, "legend": null},
                "detail": {"field": "date", "type": "nominal"},
                "order": {"field": "alt", "type": "quantitative"}
              }
            }
          ]
        },
        {
          "transform": [{"filter": "datum.site === 'Neumayer'"}],
          "mark": {"type": "point", "opacity": 0},
          "encoding": {
            "x": {"field": "ozone", "type": "quantitative", "scale": {"domain": [0, 3.5e12], "nice": false, "zero": false},
              "axis": {"orient": "top", "values": [0,1e11,2e11,3e11,4e11,5e11,6e11,7e11,8e11,9e11,1e12,1.1e12,1.2e12,1.3e12,1.4e12,1.5e12,1.6e12,1.7e12,1.8e12,1.9e12,2e12,2.1e12,2.2e12,2.3e12,2.4e12,2.5e12,2.6e12,2.7e12,2.8e12,2.9e12,3e12,3.1e12,3.2e12,3.3e12,3.4e12,3.5e12],
                "tickSize": {"condition": {"test": "datum.value % 500000000000 === 0", "value": -6}, "value": -3.5},
                "labels": false, "title": null}},
            "y": {"field": "alt", "type": "quantitative", "scale": {"domain": [0, 30], "nice": false},
              "axis": {"orient": "right", "values": [0,1,2,3,4,5,6,7,8,9,10,11,12,13,14,15,16,17,18,19,20,21,22,23,24,25,26,27,28,29,30],
                "tickSize": {"condition": {"test": "datum.value % 5 === 0", "value": -6}, "value": -3.5},
                "labels": false, "title": null}}
          }
        },
        {
          "data": {"values": [{"label": "Neumayer"}]},
          "mark": {"type": "text", "text": ["Neumayer", "20090913 (solid)", "20090923 (dashed)"], "lineHeight": 22.5, "baseline": "alphabetic", "align": "center", "font": "Liberation Serif", "fontWeight": "bold", "fontSize": 20, "color": "#000000"},
          "encoding": {
            "x": {"datum": 660000000000, "type": "quantitative", "scale": {"domain": [0, 3.5e12], "nice": false, "zero": false}, "axis": null},
            "y": {"datum": 27.9, "type": "quantitative", "scale": {"domain": [0, 30], "nice": false}, "axis": null}
          }
        }
      ]
    },
    {
      "width": 453, "height": 360,
      "resolve": {"axis": {"x": "independent", "y": "independent"}},
      "layer": [
        {
          "transform": [{"filter": "datum.site === 'Davis'"}],
          "encoding": {
            "x": {"field": "ozone", "type": "quantitative", "scale": {"domain": [0, 3.5e12], "nice": false, "zero": false},
              "axis": {"orient": "bottom", "values": [0,1e11,2e11,3e11,4e11,5e11,6e11,7e11,8e11,9e11,1e12,1.1e12,1.2e12,1.3e12,1.4e12,1.5e12,1.6e12,1.7e12,1.8e12,1.9e12,2e12,2.1e12,2.2e12,2.3e12,2.4e12,2.5e12,2.6e12,2.7e12,2.8e12,2.9e12,3e12,3.1e12,3.2e12,3.3e12,3.4e12,3.5e12],
                "tickSize": {"condition": {"test": "datum.value % 500000000000 === 0", "value": -6}, "value": -3.5},
                "labelExpr": "datum.value === 0 ? '0.0' : (datum.value % 500000000000 === 0 ? format(datum.value, '.1e') : '')",
                "labelPadding": 18, "labelFontSize": 16, "title": null}},
            "y": {"field": "alt", "type": "quantitative", "scale": {"domain": [0, 30], "nice": false},
              "axis": {"orient": "left", "values": [0,1,2,3,4,5,6,7,8,9,10,11,12,13,14,15,16,17,18,19,20,21,22,23,24,25,26,27,28,29,30],
                "tickSize": {"condition": {"test": "datum.value % 5 === 0", "value": -6}, "value": -3.5},
                "labelExpr": "datum.value % 5 === 0 ? datum.label : ''",
                "labelPadding": 12, "labelFontSize": 16.5, "title": null}}
          },
          "layer": [
            {
              "transform": [{"filter": "datum.type !== 'IASI Apriori'"}],
              "mark": {"type": "line", "strokeWidth": 2.5, "interpolate": "catmull-rom"},
              "encoding": {
                "color": {"field": "type", "type": "nominal", "scale": {"domain": ["IASI", "Sonde", "IASI Apriori"], "range": ["#0000ff", "#ff0000", "#000000"]},
                  "legend": {"orient": "bottom-right", "offset": 10, "title": null, "symbolType": "M-1,0H3", "symbolSize": 441, "symbolStrokeWidth": 3, "labelFont": "Liberation Serif", "labelFontSize": 17, "labelFontWeight": "bold", "labelColor": "#000000", "labelOffset": 26, "padding": 11, "rowPadding": 4, "strokeColor": "#808080", "fillColor": "#ffffff",
                    "encode": {"symbols": {"update": {"strokeDash": {"signal": "datum.value === 'IASI Apriori' ? [2, 5] : [1, 0]"}, "strokeWidth": {"signal": "datum.value === 'IASI Apriori' ? 2 : 3"}}}, "legend": {"update": {"strokeWidth": {"value": 1.5}}}}}},
                "strokeDash": {"field": "date", "type": "nominal", "scale": {"domain": ["20090913", "20090923", "20090915", "20090922"], "range": [[1, 0], [12, 6], [1, 0], [12, 6]]}, "legend": null},
                "order": {"field": "alt", "type": "quantitative"}
              }
            },
            {
              "transform": [{"filter": "datum.type === 'IASI Apriori'"}],
              "mark": {"type": "line", "strokeWidth": 2, "strokeDash": [1.5, 6], "interpolate": "catmull-rom"},
              "encoding": {
                "color": {"field": "type", "type": "nominal", "scale": {"domain": ["IASI", "Sonde", "IASI Apriori"], "range": ["#0000ff", "#ff0000", "#000000"]},
                  "legend": {"orient": "bottom-right", "offset": 10, "title": null, "symbolType": "M-1,0H3", "symbolSize": 441, "symbolStrokeWidth": 3, "labelFont": "Liberation Serif", "labelFontSize": 17, "labelFontWeight": "bold", "labelColor": "#000000", "labelOffset": 26, "padding": 11, "rowPadding": 4, "strokeColor": "#808080", "fillColor": "#ffffff",
                    "encode": {"symbols": {"update": {"strokeDash": {"signal": "datum.value === 'IASI Apriori' ? [2, 5] : [1, 0]"}, "strokeWidth": {"signal": "datum.value === 'IASI Apriori' ? 2 : 3"}}}, "legend": {"update": {"strokeWidth": {"value": 1.5}}}}}},
                "detail": {"field": "date", "type": "nominal"},
                "order": {"field": "alt", "type": "quantitative"}
              }
            }
          ]
        },
        {
          "transform": [{"filter": "datum.site === 'Davis'"}],
          "mark": {"type": "point", "opacity": 0},
          "encoding": {
            "x": {"field": "ozone", "type": "quantitative", "scale": {"domain": [0, 3.5e12], "nice": false, "zero": false},
              "axis": {"orient": "top", "values": [0,1e11,2e11,3e11,4e11,5e11,6e11,7e11,8e11,9e11,1e12,1.1e12,1.2e12,1.3e12,1.4e12,1.5e12,1.6e12,1.7e12,1.8e12,1.9e12,2e12,2.1e12,2.2e12,2.3e12,2.4e12,2.5e12,2.6e12,2.7e12,2.8e12,2.9e12,3e12,3.1e12,3.2e12,3.3e12,3.4e12,3.5e12],
                "tickSize": {"condition": {"test": "datum.value % 500000000000 === 0", "value": -6}, "value": -3.5},
                "labels": false, "title": null}},
            "y": {"field": "alt", "type": "quantitative", "scale": {"domain": [0, 30], "nice": false},
              "axis": {"orient": "right", "values": [0,1,2,3,4,5,6,7,8,9,10,11,12,13,14,15,16,17,18,19,20,21,22,23,24,25,26,27,28,29,30],
                "tickSize": {"condition": {"test": "datum.value % 5 === 0", "value": -6}, "value": -3.5},
                "labels": false, "title": null}}
          }
        },
        {
          "data": {"values": [{"label": "Davis"}]},
          "mark": {"type": "text", "text": ["Davis", "20090915 (solid)", "20090922 (dashed)"], "lineHeight": 22.5, "baseline": "alphabetic", "align": "center", "font": "Liberation Serif", "fontWeight": "bold", "fontSize": 20, "color": "#000000"},
          "encoding": {
            "x": {"datum": 690000000000, "type": "quantitative", "scale": {"domain": [0, 3.5e12], "nice": false, "zero": false}, "axis": null},
            "y": {"datum": 27.9, "type": "quantitative", "scale": {"domain": [0, 30], "nice": false}, "axis": null}
          }
        }
      ]
    }
  ]
}
